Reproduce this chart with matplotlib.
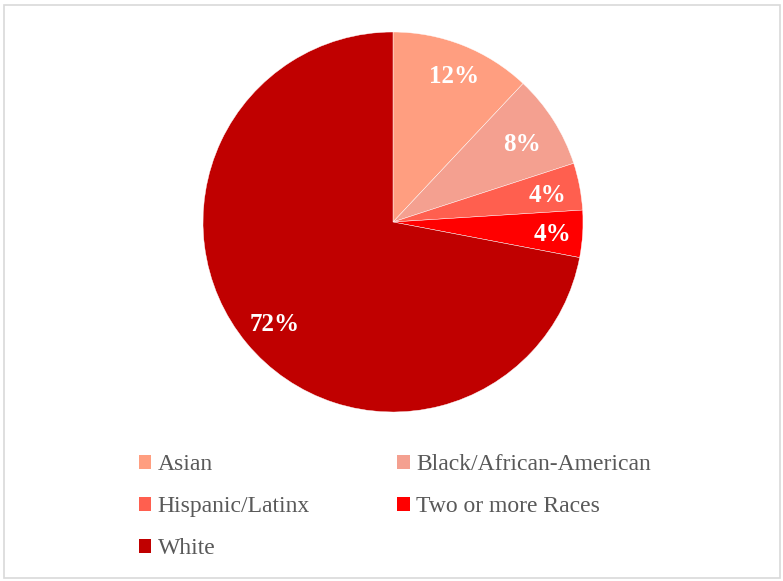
import matplotlib
matplotlib.use("Agg")
import numpy as np
import matplotlib.pyplot as plt
from matplotlib.patches import Rectangle, Patch

categories = ["Asian", "Black/African-American", "Hispanic/Latinx", "Two or more Races", "White"]
values = [12, 8, 4, 4, 72]
colors = ["#FF9E80", "#F4A090", "#FF5F4F", "#FF0000", "#C00000"]
label_dist = [0.84, 0.79, 0.82, 0.83, 0.82]

W, H = 783, 581
fig = plt.figure(figsize=(W / 100, H / 100), dpi=100)
plt.rcParams['font.family'] = ['Liberation Serif', 'DejaVu Serif']

# outer frame
fig.patches.append(Rectangle((3.5 / W, 3.5 / H), (W - 7) / W, (H - 8) / H,
                             transform=fig.transFigure, fill=False,
                             edgecolor="#D9D9D9", linewidth=1.2))

cx, cy, r = 393, 222, 190
ax = fig.add_axes([(cx - r) / W, (H - cy - r) / H, 2 * r / W, 2 * r / H])
wedges, texts, autotexts = ax.pie(
    values, colors=colors, startangle=90, counterclock=False,
    autopct=lambda p: f"{p:.0f}%", pctdistance=0.82,
    wedgeprops=dict(edgecolor="white", linewidth=0.3),
    textprops=dict(color="white", fontsize=18, fontweight="bold"))
for w, t, d in zip(wedges, autotexts, label_dist):
    ang = np.deg2rad((w.theta1 + w.theta2) / 2)
    t.set_position((d * np.cos(ang) + 0.01, d * np.sin(ang) - 0.015))
ax.set_xlim(-1, 1)
ax.set_ylim(-1, 1)
ax.set_aspect("equal")
ax.axis("off")

order = [0, 2, 4, 1, 3]
handles = [Patch(facecolor=colors[i], edgecolor="none") for i in order]
labels = [categories[i] for i in order]
fig.legend(handles, labels, loc="upper left", bbox_to_anchor=(139 / W, 1 - 454 / H),
           ncol=2, frameon=False, fontsize=17, labelcolor="#595959",
           handlelength=0.52, handleheight=0.52, handletextpad=0.27,
           columnspacing=3.7, labelspacing=0.9, borderpad=0, borderaxespad=0)

fig.savefig("out.png", dpi=100)
